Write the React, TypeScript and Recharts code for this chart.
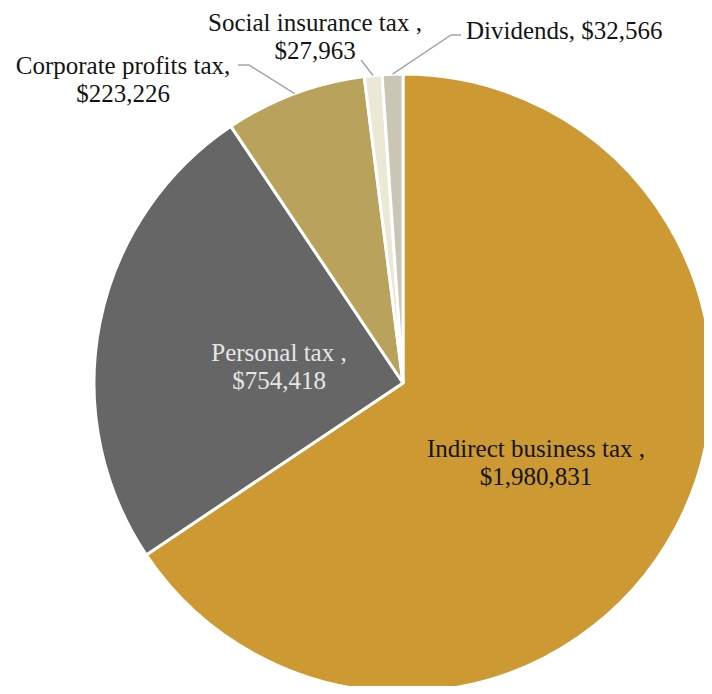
import { PieChart, Pie, Cell } from "recharts";

const categories = [
  "Indirect business tax",
  "Personal tax",
  "Corporate profits tax",
  "Social insurance tax",
  "Dividends",
];
const amounts = [1980831, 754418, 223226, 27963, 32566];
// separator written after each category name in its label
const separators = [" ,", " ,", ",", " ,", ","];

const sliceColors = ["#CC9933", "#666666", "#B9A35C", "#EBE8D5", "#C9C6B5"];

const data = categories.map((name, i) => ({ name, value: amounts[i] }));

const FONT = "'Liberation Serif', 'Times New Roman', serif";
const FONT_SIZE = 25;
const LINE_GAP = 28;
const LEADER = "#A6A6A6";

// label placement, as offsets from the pie centre
type LabelLayout = {
  dx: number;
  dy: number;
  anchor: "start" | "middle" | "end";
  oneLine?: boolean;
  fill: string;
  leader?: [number, number][];
};

const layouts: LabelLayout[] = [
  { dx: 133, dy: 65, anchor: "middle", fill: "#141414" },
  { dx: -124, dy: -31, anchor: "middle", fill: "#E6E6E6" },
  {
    dx: -280,
    dy: -318,
    anchor: "middle",
    fill: "#141414",
    leader: [
      [-154, -318],
      [-165, -318],
    ],
  },
  { dx: -88, dy: -361, anchor: "middle", fill: "#141414", leader: [[-42, -323]] },
  {
    dx: 63,
    dy: -353,
    anchor: "start",
    oneLine: true,
    fill: "#141414",
    leader: [
      [48, -348],
      [58, -348],
    ],
  },
];

const RAD = Math.PI / 180;

function renderLabel(props: any) {
  const { cx, cy, midAngle, outerRadius, index } = props;
  const lay = layouts[index];
  const name = categories[index] + separators[index];
  const amount = "$" + amounts[index].toLocaleString("en-US");
  const x = cx + lay.dx;
  const y = cy + lay.dy;

  let path = "";
  if (lay.leader) {
    const sx = cx + outerRadius * Math.cos(-midAngle * RAD);
    const sy = cy + outerRadius * Math.sin(-midAngle * RAD);
    path = `M${sx},${sy}` + lay.leader.map(([px, py]) => ` L${cx + px},${cy + py}`).join("");
  }

  return (
    <g key={`label-${index}`}>
      {path && <path d={path} stroke={LEADER} strokeWidth={1.5} fill="none" />}
      <text
        x={x}
        y={y}
        fill={lay.fill}
        textAnchor={lay.anchor}
        dominantBaseline="central"
        fontFamily={FONT}
        fontSize={FONT_SIZE}
      >
        {lay.oneLine ? (
          `${name} ${amount}`
        ) : (
          <>
            <tspan x={x} y={y}>
              {name}
            </tspan>
            <tspan x={x} y={y + LINE_GAP}>
              {amount}
            </tspan>
          </>
        )}
      </text>
    </g>
  );
}

export default function App() {
  return (
    <div style={{ margin: -8, width: 712, height: 694, background: "#FFFFFF" }}>
      <PieChart width={712} height={694} margin={{ top: 0, right: 0, bottom: 0, left: 0 }}>
        <Pie
          data={data}
          dataKey="value"
          nameKey="name"
          cx={403}
          cy={383}
          innerRadius={0}
          outerRadius={309}
          startAngle={90}
          endAngle={-270}
          stroke="#FFFFFF"
          strokeWidth={3}
          label={renderLabel}
          labelLine={false}
          isAnimationActive={false}
        >
          {data.map((d, i) => (
            <Cell key={d.name} fill={sliceColors[i]} />
          ))}
        </Pie>
      </PieChart>
    </div>
  );
}
